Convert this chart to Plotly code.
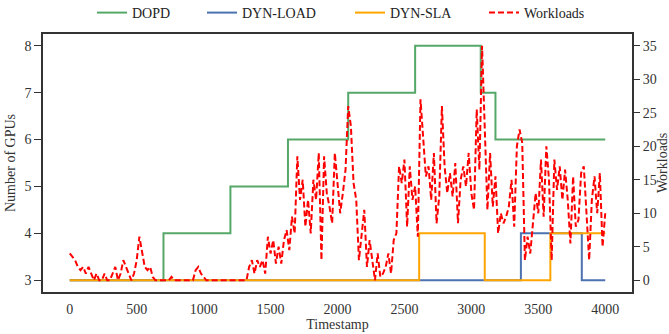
import plotly.graph_objects as go

# Step series (change points)
dopd_t = [0, 700, 1200, 1630, 2080, 2580, 3070, 3180, 4000]
dopd_v = [3, 4, 5, 6, 7, 8, 7, 6, 6]
dynload_t = [0, 3370, 3825, 4000]
dynload_v = [3, 4, 3, 3]
dynsla_t = [0, 2610, 3100, 3590, 4000]
dynsla_v = [3, 4, 3, 4, 4]

# Workloads, sampled every 20 timestamps
work_t = list(range(0, 4001, 20))
work_v = [
    4, 3.5, 3, 2, 1.5,        # 0-80
    2, 1, 2, 1, 0,            # 100-180
    1, 0, 0, 1, 0,            # 200-280
    0, 1, 2, 0, 1,            # 300-380
    3, 2, 1, 0, 1,            # 400-480
    3, 6.5, 4, 2, 1.5,        # 500-580
    2, 0.5, 0, 0, 0,          # 600-680
    0, 0, 0, 0.5, 0,          # 700-780
    0, 0, 0, 0, 0,            # 800-880
    0, 0, 1.5, 2, 1,          # 900-980
    0.5, 0, 0, 0, 0,          # 1000-1080
    0, 0, 0, 0, 0,            # 1100-1180
    0, 0, 0, 0, 0,            # 1200-1280
    0, 0, 2, 3, 1,            # 1300-1380
    3, 2, 3, 1, 6.5,          # 1400-1480
    4, 6, 2.5, 5, 2.5,        # 1500-1580
    6, 7.5, 4.5, 9.5, 7,      # 1600-1680
    18.5, 12, 15, 8, 12,      # 1700-1780
    7, 15, 12, 19, 3,         # 1800-1880
    18.5, 13, 11, 8.5, 19,    # 1900-1980
    15, 10, 13, 16.5, 26,     # 2000-2080
    23, 14.5, 12, 3, 7,       # 2100-2180
    10.5, 2, 6, 3, 0,         # 2200-2280
    4, 0.5, 1, 2, 4,          # 2300-2380
    1, 6, 7, 17, 14.5,        # 2400-2480
    18, 8, 17, 12, 14,        # 2500-2580
    6.5, 27, 21, 15.5, 17,    # 2600-2680
    12, 19, 8.5, 12.5, 26,    # 2700-2780
    17, 13, 16, 12.5, 17.5,   # 2800-2880
    8.5, 15, 17, 14, 19,      # 2900-2980
    13, 10.5, 25.5, 16.5, 35, # 3000-3080
    21, 10.5, 19, 11, 15.5,   # 3100-3180
    7, 10, 8.5, 9.5, 11,      # 3200-3280
    15, 8, 20, 22.5, 20.5,    # 3300-3380
    3, 6.5, 4, 8.5, 13,       # 3400-3480
    10, 18, 9.5, 20, 15,      # 3500-3580
    3, 18, 13.5, 17, 12,      # 3600-3680
    16.5, 12, 5.5, 15.5, 8,   # 3700-3780
    9, 16, 17, 10, 3,         # 3800-3880
    12, 15.5, 10, 16, 5,      # 3900-3980
    10,                       # 4000
]

xticks = [0, 500, 1000, 1500, 2000, 2500, 3000, 3500, 4000]
yticks = [3, 4, 5, 6, 7, 8]
y2ticks = [0, 5, 10, 15, 20, 25, 30, 35]

FONT = "Liberation Serif"
TXT = "#333333"
tf = dict(family=FONT, size=14, color=TXT)
ttf = dict(family=FONT, size=14, color=TXT)

fig = go.Figure()
fig.add_trace(go.Scatter(x=dopd_t, y=dopd_v, name="DOPD", mode="lines", legend="legend",
                         line=dict(color="#55a868", width=2, shape="hv")))
fig.add_trace(go.Scatter(x=dynload_t, y=dynload_v, name="DYN-LOAD", mode="lines", legend="legend2",
                         line=dict(color="#4c72b0", width=2, shape="hv")))
fig.add_trace(go.Scatter(x=dynsla_t, y=dynsla_v, name="DYN-SLA", mode="lines", legend="legend3",
                         line=dict(color="orange", width=2, shape="hv")))
fig.add_trace(go.Scatter(x=work_t, y=work_v, name="Workloads", mode="lines", legend="legend4",
                         yaxis="y2",
                         line=dict(color="red", width=2, dash="6px,3px")))

def leg(xpx):
    return dict(orientation="h", xref="container", yref="container",
                x=(xpx - 3) / 669, xanchor="left", y=1 - 13 / 334, yanchor="middle",
                font=dict(family=FONT, size=14, color="#222222"),
                bgcolor="rgba(0,0,0,0)", itemwidth=30)

fig.update_layout(
    width=669, height=334,
    margin=dict(l=43, r=37, t=34, b=42, autoexpand=False),
    paper_bgcolor="white", plot_bgcolor="white",
    font=dict(family=FONT, size=14, color=TXT),
    showlegend=True,
    legend=leg(95), legend2=leg(205), legend3=leg(353), legend4=leg(487),
    xaxis=dict(range=[-200, 4200], tickvals=xticks, showgrid=False, zeroline=False,
               showline=True, linecolor="#333333", linewidth=1.5, mirror=True,
               ticks="outside", ticklen=3, tickcolor="rgba(0,0,0,0)", tickfont=tf,
               title=dict(text="Timestamp", standoff=1, font=ttf)),
    yaxis=dict(range=[2.75, 8.25], tickvals=yticks, showgrid=False, zeroline=False,
               showline=True, linecolor="#333333", linewidth=1.5, mirror=True,
               ticks="outside", ticklen=7, tickwidth=1.2, tickcolor="#333333", tickfont=tf,
               title=dict(text="Number of GPUs", standoff=6, font=ttf)),
    yaxis2=dict(range=[-1.75, 36.75], tickvals=y2ticks, overlaying="y", side="right",
                showgrid=False, zeroline=False, showline=False,
                ticks="outside", ticklen=7, tickwidth=1.2, tickcolor="#333333", tickfont=tf),
)
fig.add_annotation(text="Workloads", xref="paper", yref="paper",
                   x=(662 - 43) / 589, y=0.5, xanchor="center", yanchor="middle",
                   textangle=-90, showarrow=False, font=ttf)

fig.write_html("out.html")
